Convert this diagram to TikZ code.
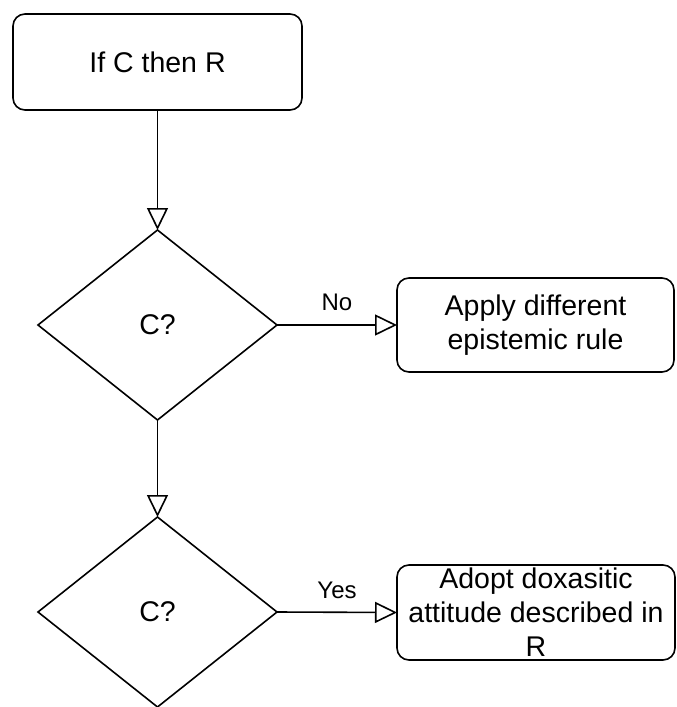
\documentclass[tikz,border=0pt]{standalone}
\usepackage{fontspec}
\setmainfont{Liberation Sans}
\usetikzlibrary{shapes.geometric,arrows.meta}
\begin{document}
\begin{tikzpicture}[x=1pt,y=-1pt,
  box/.style={draw, rounded corners=12pt, line width=1.6pt, inner sep=0pt, outer sep=0pt,
    align=center, font=\fontsize{28.5}{34}\selectfont},
  decision/.style={draw, diamond, line width=1.6pt, inner sep=0pt, outer sep=0pt,
    minimum width=239pt, minimum height=190pt, font=\fontsize{28.5}{34}\selectfont},
  conn/.style={line width=1.6pt, -{Triangle[open, length=22pt, width=21pt, line width=1.6pt]}},
  lbl/.style={font=\fontsize{24}{28}\selectfont, inner sep=0pt}
]
\useasboundingbox (0,0) rectangle (677,707);
\node[box, minimum width=289pt, minimum height=96pt] (top) at (157.5,62) {If C then R};
\node[decision] (d1) at (157.5,325) {C?};
\node[box, minimum width=277pt, minimum height=94pt] (r2) at (535.5,325) {Apply different\\epistemic rule};
\node[decision] (d2) at (157.5,612) {C?};
\node[box, minimum width=278pt, minimum height=95pt] (r3) at (536,612.5) {Adopt doxasitic\\attitude described in\\R};
\draw[conn] (top.south) -- (d1.north);
\draw[conn] (d1.east) -- (r2.west);
\draw[conn] (d1.south) -- (d2.north);
\draw[conn] (d2.east) -- (r3.west);
\node[lbl] (no) at (337,302) {No};
\node[lbl] (yes) at (337,590) {Yes};
\end{tikzpicture}
\end{document}
